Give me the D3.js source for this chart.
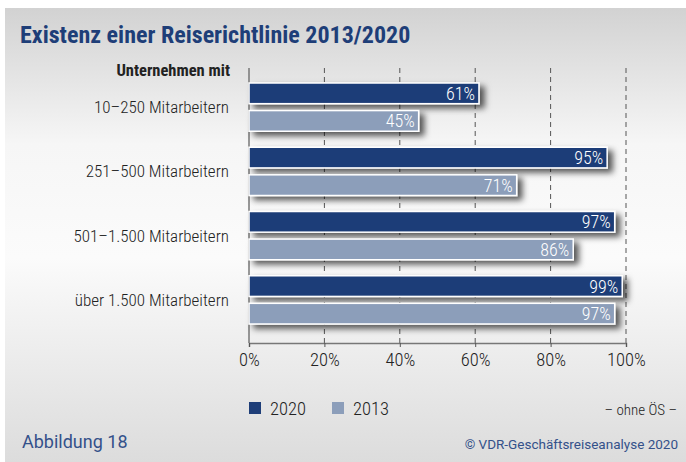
<!DOCTYPE html>
<html>
<head>
<meta charset="utf-8">
<script src="https://cdn.jsdelivr.net/npm/d3@7"></script>
<style>
  body { margin: 0; background: #fff; }
  svg text { font-family: Roboto, sans-serif; font-weight: 300; font-stretch: condensed; }
  svg text.bold { font-weight: 700; }
  svg text.plain { font-weight: 400; font-stretch: normal; }
</style>
</head>
<body>
<script>
// data
var categories = ["10\u2013250 Mitarbeitern", "251\u2013500 Mitarbeitern", "501\u20131.500 Mitarbeitern", "\u00fcber 1.500 Mitarbeitern"];
var years = ["2020", "2013"];
var values2020 = [61, 95, 97, 99];
var values2013 = [45, 71, 86, 97];
var xTicks = [0, 20, 40, 60, 80, 100];

var colors = {"2020": "#1e3e78", "2013": "#8c9eba"};

var W = 686, H = 462;

var svg = d3.select("body").append("svg")
    .attr("width", W)
    .attr("height", H);

var defs = svg.append("defs");

// background gradient
var grad = defs.append("linearGradient")
    .attr("id", "bg")
    .attr("x1", 0).attr("y1", 0).attr("x2", 0).attr("y2", 1);
grad.append("stop").attr("offset", "0%").attr("stop-color", "#d2d2d2");
grad.append("stop").attr("offset", "30%").attr("stop-color", "#f6f6f6");
grad.append("stop").attr("offset", "55%").attr("stop-color", "#fbfbfb");
grad.append("stop").attr("offset", "100%").attr("stop-color", "#dcdcdc");

// drop shadow for bars
var f = defs.append("filter")
    .attr("id", "shadow")
    .attr("x", "-10%").attr("y", "-50%")
    .attr("width", "130%").attr("height", "250%");
f.append("feDropShadow")
    .attr("dx", 5).attr("dy", 4)
    .attr("stdDeviation", 3)
    .attr("flood-color", "#000")
    .attr("flood-opacity", 0.65);

svg.append("rect")
    .attr("x", 5).attr("y", 8)
    .attr("width", W - 5).attr("height", H - 8)
    .attr("fill", "url(#bg)");

// title
svg.append("text")
    .attr("class", "bold")
    .attr("x", 20).attr("y", 43)
    .attr("fill", "#1e3e78")
    .attr("font-size", 24)
    .text("Existenz einer Reiserichtlinie 2013/2020");

// scales
var x = d3.scaleLinear()
    .domain([0, 100])
    .range([249, 626]);

var y = d3.scaleBand()
    .domain(categories)
    .range([75, 332]);

var ySub = d3.scaleBand()
    .domain(years)
    .range([8, y.bandwidth() - 8])
    .paddingInner(0.25);

var plotTop = 68, plotBottom = 343;

// gridlines
svg.append("g")
    .selectAll("line")
    .data(xTicks.slice(1))
    .join("line")
    .attr("x1", d => x(d)).attr("x2", d => x(d))
    .attr("y1", plotTop).attr("y2", plotBottom)
    .attr("stroke", "#555")
    .attr("stroke-width", 1)
    .attr("stroke-dasharray", "5,4");

// y axis line
svg.append("line")
    .attr("x1", x(0)).attr("x2", x(0))
    .attr("y1", plotTop).attr("y2", plotBottom)
    .attr("stroke", "#777")
    .attr("stroke-width", 1.5);

// header label
svg.append("text")
    .attr("class", "bold")
    .attr("x", 230).attr("y", 76)
    .attr("text-anchor", "end")
    .attr("font-size", 16.5)
    .attr("fill", "#222")
    .text("Unternehmen mit");

// category labels
svg.append("g")
    .selectAll("text")
    .data(categories)
    .join("text")
    .attr("x", 229)
    .attr("y", d => y(d) + y.bandwidth() / 2)
    .attr("dy", "0.35em")
    .attr("text-anchor", "end")
    .attr("font-size", 17)
    .attr("fill", "#222")
    .text(d => d);

// bars
var rows = categories.map(function(c, i) {
    return {cat: c, vals: [{year: "2020", v: values2020[i]}, {year: "2013", v: values2013[i]}]};
});

var groups = svg.append("g")
    .selectAll("g")
    .data(rows)
    .join("g")
    .attr("transform", d => "translate(0," + y(d.cat) + ")");

groups.selectAll("rect")
    .data(d => d.vals)
    .join("rect")
    .attr("x", x(0))
    .attr("y", d => ySub(d.year))
    .attr("width", d => x(d.v) - x(0))
    .attr("height", ySub.bandwidth())
    .attr("fill", d => colors[d.year])
    .attr("stroke", "#fff")
    .attr("stroke-width", 1.5)
    .attr("filter", "url(#shadow)");

groups.selectAll("text")
    .data(d => d.vals)
    .join("text")
    .attr("x", d => x(d.v) - 4)
    .attr("y", d => ySub(d.year) + ySub.bandwidth() / 2)
    .attr("dy", "0.36em")
    .attr("text-anchor", "end")
    .attr("font-size", 18)
    .attr("fill", "#fff")
    .text(d => d.v + "%");

// x axis
var xAxis = svg.append("g")
    .attr("transform", "translate(0," + plotBottom + ")")
    .call(d3.axisBottom(x).tickValues(xTicks).tickSize(4).tickPadding(6).tickFormat(d => d + "%"));
xAxis.attr("font-family", null);
xAxis.select(".domain").attr("stroke", "#777").attr("stroke-width", 1.5);
xAxis.selectAll(".tick line").attr("stroke", "#555");
xAxis.selectAll(".tick text")
    .attr("font-size", 18.5)
    .attr("fill", "#222");

// legend
var legend = svg.append("g")
    .selectAll("g")
    .data(years)
    .join("g")
    .attr("transform", (d, i) => "translate(" + (249 + i * 83) + ",402)");
legend.append("rect")
    .attr("width", 12).attr("height", 12)
    .attr("fill", d => colors[d]);
legend.append("text")
    .attr("x", 21).attr("y", 6)
    .attr("dy", "0.36em")
    .attr("font-size", 18.5)
    .attr("fill", "#222")
    .text(d => d);

svg.append("text")
    .attr("x", 677).attr("y", 415)
    .attr("text-anchor", "end")
    .attr("font-size", 15)
    .attr("fill", "#222")
    .text("\u2013 ohne \u00d6S \u2013");

// footer
svg.append("text")
    .attr("class", "plain")
    .attr("x", 22).attr("y", 448)
    .attr("font-size", 18)
    .attr("fill", "#34518a")
    .text("Abbildung 18");

svg.append("text")
    .attr("class", "plain")
    .attr("x", 678).attr("y", 449)
    .attr("text-anchor", "end")
    .attr("font-size", 13.5)
    .attr("fill", "#34518a")
    .text("\u00a9 VDR-Gesch\u00e4ftsreiseanalyse 2020");
</script>
</body>
</html>
